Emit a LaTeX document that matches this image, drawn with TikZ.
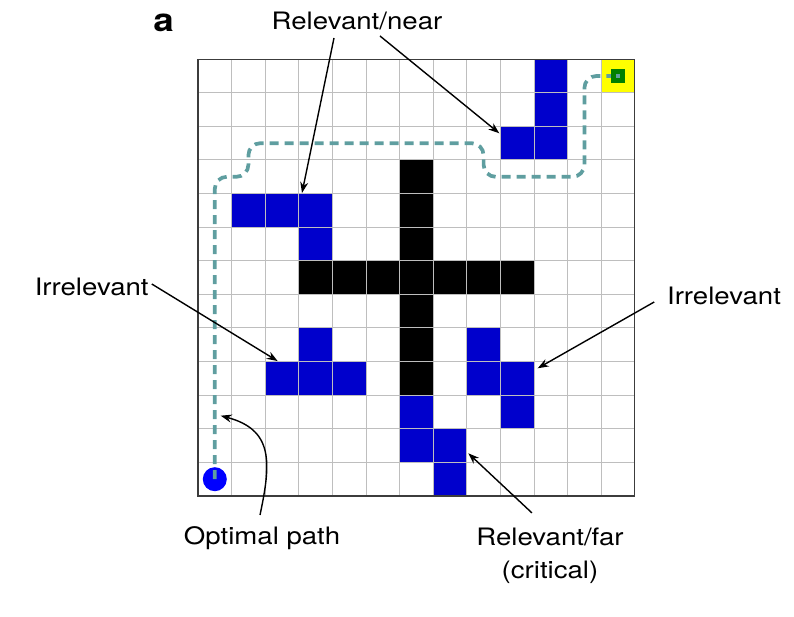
\documentclass[tikz,border=0pt]{standalone}
\usepackage{fontspec}
\setmainfont{TeX Gyre Heros}[FakeStretch=1.15]
\usepackage{xcolor}
\usetikzlibrary{arrows.meta}
\definecolor{obstblue}{RGB}{0, 0, 204}
\definecolor{agentblue}{RGB}{0, 0, 255}
\definecolor{goalgreen}{RGB}{0, 128, 0}
\definecolor{goalyellow}{RGB}{255, 255, 0}
\definecolor{routeteal}{RGB}{95, 158, 160}
\definecolor{gridgray}{RGB}{190, 190, 190}
\definecolor{framegray}{RGB}{60, 60, 60}

\begin{document}
\begin{tikzpicture}[
    x=33.6pt, y=33.6pt,
    lbl/.style={font=\fontsize{24}{33}\selectfont, inner sep=0pt},
    arrow/.style={-{Stealth[length=11pt, width=8pt]}, line width=1.4pt, color=black},
    route/.style={draw=routeteal, line width=3.7pt, dash pattern=on 9pt off 6pt,
                  rounded corners=12pt},
    obstacle/.style={fill=obstblue},
    wall/.style={fill=black}
]
    \useasboundingbox (-5.893,-3.601) rectangle (17.738,14.762);

    % cells
    \fill[obstacle] (1,8) rectangle (4,9) (3,7) rectangle (4,8);
    \fill[obstacle] (9,10) rectangle (11,11) (10,11) rectangle (11,13);
    \fill[obstacle] (2,3) rectangle (5,4) (3,4) rectangle (4,5);
    \fill[obstacle] (8,3) rectangle (10,4) (8,4) rectangle (9,5) (9,2) rectangle (10,3);
    \fill[obstacle] (6,1) rectangle (8,2) (6,2) rectangle (7,3) (7,0) rectangle (8,1);
    \fill[wall] (3,6) rectangle (10,7) (6,3) rectangle (7,10);
    \fill[goalyellow] (12,12) rectangle (13,13);

    \draw[gridgray, line width=1pt, step=33.6pt] (0,0) grid (13,13);
    \draw[framegray, line width=1.2pt] (0,0) rectangle (13,13);

    % start and goal
    \node[circle, fill=agentblue, minimum size=24pt, inner sep=0pt] (agent) at (0.5,0.5) {};
    \node[rectangle, fill=goalgreen, minimum size=14pt, inner sep=0pt] (goal) at (12.5,12.5) {};
    \draw[route] (agent.center) -- (0.5,9.5) -- (1.5,9.5) -- (1.5,10.5) -- (8.5,10.5)
        -- (8.5,9.5) -- (11.5,9.5) -- (11.5,12.5) -- (goal.west);
    \fill[routeteal] ([xshift=-2pt,yshift=-2pt]goal.center) rectangle ++(4pt,4pt);

    % labels
    \node[font=\fontsize{32}{32}\selectfont\bfseries, inner sep=0pt, anchor=base] (panel) at (-1.027,13.82) {a};
    \node[lbl, anchor=base] (relnear) at (4.732,13.89) {Relevant/near};
    \node[lbl, anchor=base] (irrleft) at (-3.164,5.982) {Irrelevant};
    \node[lbl, anchor=base] (irrright) at (15.655,5.685) {Irrelevant};
    \node[lbl, anchor=base] (optlbl) at (1.905,-1.458) {Optimal path};
    \node[lbl, anchor=north, align=center] (relfar) at (10.476,-0.952) {Relevant/far\\(critical)};

    \coordinate (tipnear) at (3.095,9.018);
    \coordinate (tipneartwo) at (8.967,10.795);
    \coordinate (tipirrleft) at (2.372,4.015);
    \coordinate (tipirrright) at (10.110,3.801);
    \coordinate (tipopt) at (0.676,2.39);
    \coordinate (tipfar) at (8.045,1.271);

    \draw[arrow] ([xshift=-23pt,yshift=-8.7pt]relnear.base) -- (tipnear);
    \draw[arrow] ([xshift=23pt,yshift=-6.7pt]relnear.base) -- (tipneartwo);
    \draw[arrow] ([xshift=3pt,yshift=11pt]irrleft.base east) -- (tipirrleft);
    \draw[arrow] ([xshift=-12.7pt,yshift=3pt]irrright.base west) -- (tipirrright);
    \draw[arrow] ([xshift=-2pt,yshift=30pt]optlbl.base) to[out=78, in=-15, looseness=1.3] (tipopt);
    \draw[arrow] ([xshift=-18pt,yshift=15pt]relfar.north) -- (tipfar);
\end{tikzpicture}
\end{document}
